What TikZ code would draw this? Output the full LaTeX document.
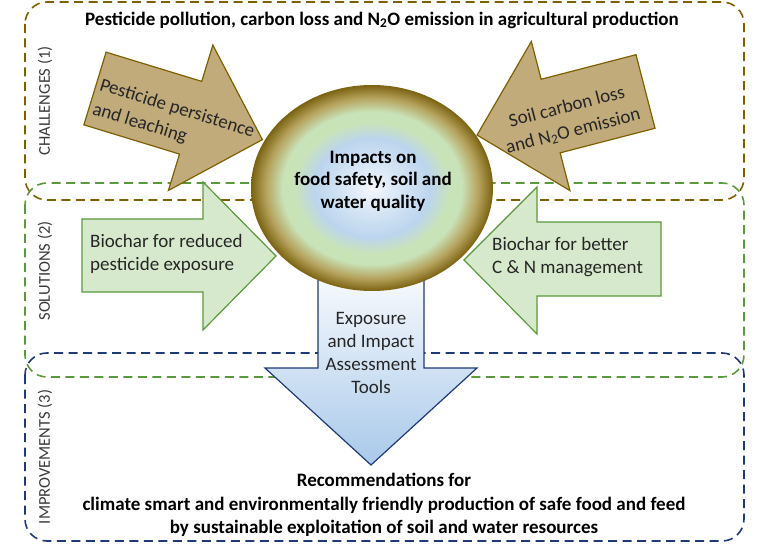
\documentclass[tikz,border=0pt]{standalone}
\usepackage{fontspec}
\setmainfont{Carlito}
\usepackage{xcolor}
\usepackage{tikz}
\usetikzlibrary{shapes.geometric, positioning, calc}

\definecolor{olivebrd}{HTML}{7F6000}
\definecolor{tanfill}{HTML}{C1AB7B}
\definecolor{greenbrd}{HTML}{5B9A3C}
\definecolor{greenfill}{HTML}{D6E9CC}
\definecolor{navybrd}{HTML}{1F3A78}
\definecolor{bluefill}{HTML}{A9C9EA}
\definecolor{labelgray}{HTML}{3A3A3A}
\definecolor{ballcenter}{HTML}{F6F9FD}
\definecolor{ballblue}{HTML}{BCD5EE}
\definecolor{ballgreen}{HTML}{C9E3B9}
\definecolor{balltan}{HTML}{B5A25C}
\definecolor{balledge}{HTML}{7A6210}

\pgfdeclareradialshading{impactball}{\pgfpoint{0bp}{0bp}}{%
  color(0bp)=(ballcenter); color(4bp)=(ballcenter!60!ballblue);
  color(12bp)=(ballblue); color(16bp)=(ballgreen); color(18.5bp)=(ballgreen);
  color(22bp)=(balltan); color(25bp)=(balledge); color(50bp)=(balledge)}

\tikzstyle{zonebox} = [line width=1.6pt, dash pattern=on 9pt off 5.5pt, rounded corners=22pt]
\tikzstyle{sidelabel} = [rotate=90, text=labelgray, font=\fontsize{16.5}{20}\selectfont]
\tikzstyle{challengearrow} = [draw=olivebrd, fill=tanfill, line width=1.2pt, line join=miter]
\tikzstyle{solutionarrow} = [draw=greenbrd, fill=greenfill, line width=1.2pt, line join=miter]
\tikzstyle{toolarrow} = [draw=navybrd, top color=white, bottom color=bluefill, line width=1.2pt, line join=miter]
\tikzstyle{arrowtext} = [inner sep=0pt, text=black!85, font=\fontsize{19}{22.5}\selectfont]
\tikzstyle{boldtext} = [inner sep=0pt, align=center, font=\fontsize{19}{23}\selectfont\bfseries]

\begin{document}
\begin{tikzpicture}[x=1pt, y=-1pt]
    \useasboundingbox (0,0) rectangle (768,545);

    % Bereiche (1) - (3)
    \draw [zonebox, draw=olivebrd] (25,2) rectangle (744,200);
    \draw [zonebox, draw=greenbrd] (25,183) rectangle (744,377);
    \draw [zonebox, draw=navybrd] (25,353) rectangle (744,541);

    \node (chal) [sidelabel] at (45,101) {CHALLENGES (1)};
    \node (sol) [sidelabel] at (45,271) {SOLUTIONS (2)};
    \node (impr) [sidelabel] at (45,457) {IMPROVEMENTS (3)};

    % Titel
    \node (title) [boldtext] at (382,20) {Pesticide pollution, carbon loss and N\textsubscript{2}O emission in agricultural production};

    % Challenges
    \begin{scope}[shift={(95,88.5)}, rotate=-17, transform shape]
        \draw [challengearrow] (0,-38) -- (100,-38) -- (100,-76) -- (175,0) -- (100,76) -- (100,38) -- (0,38) -- cycle;
        \node (persist) [arrowtext, anchor=west, align=left, font=\fontsize{19}{25}\selectfont] at (4,8) {Pesticide persistence\\and leaching};
    \end{scope}
    \begin{scope}[shift={(645.5,91.5)}, rotate=14.5, transform shape]
        \draw [challengearrow] (0,-38) -- (-98,-38) -- (-98,-77) -- (-174,0) -- (-98,77) -- (-98,38) -- (0,38) -- cycle;
        \node (carbon) [arrowtext, align=center, font=\fontsize{19}{25}\selectfont] at (-80,8) {Soil carbon loss\\and N\textsubscript{2}O emission};
    \end{scope}

    % Solutions
    \draw [solutionarrow] (82,219) -- (203,219) -- (203,182) -- (276,256) -- (203,330) -- (203,292) -- (82,292) -- cycle;
    \node (reduced) [arrowtext, anchor=west, align=left] at (90,254) {Biochar for reduced\\pesticide exposure};
    \draw [solutionarrow] (661,222) -- (537,222) -- (537,187) -- (464,260) -- (537,334) -- (537,296) -- (661,296) -- cycle;
    \node (better) [arrowtext, anchor=west, align=left] at (492,257) {Biochar for better\\C \& N management};

    % Tools
    \draw [toolarrow] (318,255) -- (424,255) -- (424,368) -- (477,368) -- (371,465) -- (265,368) -- (318,368) -- cycle;
    \node (tools) [arrowtext, align=center, font=\fontsize{19}{22.7}\selectfont] at (371,353) {Exposure\\and Impact\\Assessment\\Tools};

    % Impacts
    \node (impact) [ellipse, minimum width=242pt, minimum height=206pt, inner sep=0pt, shading=impactball] at (372,188) {};
    \node (impacttext) [boldtext, font=\fontsize{19}{22.5}\selectfont\bfseries] at ($(impact)+(1,-7)$) {Impacts on\\food safety, soil and\\water quality};

    % Improvements
    \node (recomm) [boldtext, font=\fontsize{19}{23.5}\selectfont\bfseries] at (384,505) {Recommendations for\\climate smart and environmentally friendly production of safe food and feed\\by sustainable exploitation of soil and water resources};

\end{tikzpicture}
\end{document}
